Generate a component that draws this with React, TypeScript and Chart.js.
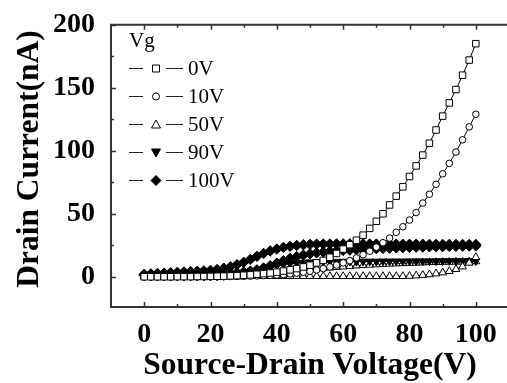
import React, { useEffect, useRef } from 'react';
import { Chart, registerables } from 'chart.js';

Chart.register(...registerables);

// ---------- data ----------
const voltages = [0, 2, 4, 6, 8, 10, 12, 14, 16, 18, 20, 22, 24, 26, 28, 30, 32, 34, 36, 38, 40, 42, 44, 46, 48, 50, 52, 54, 56, 58, 60, 62, 64, 66, 68, 70, 72, 74, 76, 78, 80, 82, 84, 86, 88, 90, 92, 94, 96, 98, 100];

const current0V = [0, 0, 0, 0, 0, 0.1, 0.1, 0.1, 0.2, 0.2, 0.3, 0.4, 0.5, 0.7, 0.9, 1.2, 1.5, 2, 2.5, 3, 3.7, 4.5, 5.5, 6.5, 7.8, 9.2, 11, 13, 15.5, 18.5, 22, 25.5, 29, 33, 38.4, 44, 50, 57, 64, 71.4, 79.6, 88, 96.6, 106, 116.5, 127.5, 138, 148.6, 160, 172, 185];

const current10V = [0, 0, 0, 0, 0, 0, 0, 0, 0, 0.1, 0.1, 0.1, 0.2, 0.2, 0.3, 0.4, 0.5, 0.7, 0.9, 1.1, 1.4, 1.8, 2.3, 2.9, 3.6, 4.4, 5.4, 6.5, 7.8, 9.3, 11, 12.8, 15, 17.5, 20.3, 23.5, 27, 30.7, 35.3, 39.7, 45, 51, 58.5, 65.5, 73.4, 81.7, 90, 99, 108.7, 119, 129];

const current50V = [0.2, 0.2, 0.2, 0.2, 0.2, 0.2, 0.2, 0.2, 0.2, 0.2, 0.2, 0.2, 0.2, 0.2, 0.2, 0.2, 0.4, 0.4, 0.4, 0.4, 0.4, 0.4, 0.4, 0.4, 0.4, 0.4, 0.4, 0.4, 0.4, 0.4, 0.4, 0.4, 0.4, 0.4, 0.4, 0.4, 0.4, 0.4, 0.4, 0.4, 0.6, 0.9, 1.3, 1.8, 2.5, 3.3, 4.4, 6, 8, 11, 15.5];

const current90V = [0.2, 0.2, 0.2, 0.2, 0.2, 0.2, 0.2, 0.2, 0.2, 0.2, 0.2, 0.4, 0.7, 1.1, 1.7, 2.5, 3.5, 4.7, 6, 7.3, 8.5, 9.5, 10.3, 10.9, 11.3, 11.6, 11.8, 11.9, 12, 12, 12.1, 12.1, 12.1, 12.2, 12.2, 12.2, 12.3, 12.3, 12.3, 12.3, 12.4, 12.4, 12.4, 12.4, 12.5, 12.5, 12.5, 12.5, 12.6, 12.6, 12.6];

const current100V = [2, 2.3, 2.6, 2.9, 3.2, 3.5, 3.8, 4.1, 4.4, 4.7, 5.1, 5.8, 6.8, 8, 9.6, 11.5, 13.8, 16.2, 18.5, 20.5, 22, 23.3, 24.2, 24.9, 25.4, 25.7, 25.9, 26, 26, 26.1, 26.1, 26.1, 26, 26, 26, 26, 25.9, 25.9, 25.9, 25.8, 25.8, 25.8, 25.8, 25.7, 25.7, 25.7, 25.7, 25.6, 25.6, 25.6, 25.6];

// unlabeled curves that fill the dense bands of the picture
const currentBandA = [1.2, 1.3, 1.4, 1.5, 1.6, 1.7, 1.8, 1.9, 2, 2.1, 2.2, 2.4, 2.6, 2.9, 3.3, 3.8, 4.5, 5.5, 7, 8.8, 10.8, 12.8, 14.6, 16, 17.2, 18.2, 19, 19.6, 20.1, 20.5, 20.9, 21.2, 21.5, 21.8, 22.1, 22.3, 22.5, 22.7, 22.9, 23.1, 23.3, 23.5, 23.6, 23.8, 23.9, 24, 24.1, 24.2, 24.3, 24.4, 24.5];

const currentBandB = [0.3, 0.3, 0.3, 0.3, 0.3, 0.3, 0.3, 0.3, 0.3, 0.3, 0.3, 0.3, 0.3, 0.3, 0.3, 0.6, 1, 1.6, 2.3, 3, 3.7, 4.3, 4.8, 5.2, 5.6, 6, 6.4, 6.8, 7.2, 7.6, 8, 8.4, 8.8, 9.1, 9.4, 9.7, 10, 10.2, 10.4, 10.6, 10.8, 11, 11.2, 11.4, 11.5, 11.6, 11.7, 11.8, 11.9, 12, 12.1];

const seriesLabels = ['0V', '10V', '50V', '90V', '100V'];
const legendTitle = 'Vg';
const xTickValues = [0, 20, 40, 60, 80, 100];
const xMinorValues = [10, 30, 50, 70, 90];
const yTickValues = [0, 50, 100, 150, 200];
const yMinorValues = [25, 75, 125, 175];
const xTitle = 'Source-Drain Voltage(V)';
const yTitle = 'Drain Current(nA)';

// ---------- styles ----------
const SERIF = '"Liberation Serif", "Times New Roman", serif';
const AXIS_COLOR = '#333333';

type Marker = 'square' | 'circle' | 'triangle' | 'triangleDown' | 'diamond';

const toXY = (ys: number[]) => voltages.map((v, i) => ({ x: v, y: ys[i] }));

function markerStyle(m: Marker) {
  switch (m) {
    case 'square':
      return { pointStyle: 'rect', pointRadius: 4.6, pointRotation: 0, pointBackgroundColor: '#ffffff' };
    case 'circle':
      return { pointStyle: 'circle', pointRadius: 3.3, pointRotation: 0, pointBackgroundColor: '#ffffff' };
    case 'triangle':
      return { pointStyle: 'triangle', pointRadius: 4.5, pointRotation: 0, pointBackgroundColor: '#ffffff' };
    case 'triangleDown':
      return { pointStyle: 'triangle', pointRadius: 4.5, pointRotation: 180, pointBackgroundColor: '#000000' };
    case 'diamond':
    default:
      return { pointStyle: 'rectRot', pointRadius: 5.2, pointRotation: 0, pointBackgroundColor: '#000000' };
  }
}

const seriesDefs: { label: string; values: number[]; marker: Marker; inLegend: boolean }[] = [
  { label: seriesLabels[0], values: current0V, marker: 'square', inLegend: true },
  { label: seriesLabels[1], values: current10V, marker: 'circle', inLegend: true },
  { label: seriesLabels[2], values: current50V, marker: 'triangle', inLegend: true },
  { label: seriesLabels[3], values: current90V, marker: 'triangleDown', inLegend: true },
  { label: seriesLabels[4], values: current100V, marker: 'diamond', inLegend: true },
  { label: '', values: currentBandA, marker: 'diamond', inLegend: false },
  { label: '', values: currentBandB, marker: 'triangle', inLegend: false },
];

function drawLegendMarker(ctx: CanvasRenderingContext2D, m: Marker, cx: number, cy: number) {
  ctx.beginPath();
  let filled = false;
  if (m === 'square') {
    ctx.rect(cx - 3.5, cy - 3.5, 7, 7);
  } else if (m === 'circle') {
    ctx.arc(cx, cy, 3.5, 0, Math.PI * 2);
  } else if (m === 'triangle') {
    ctx.moveTo(cx, cy - 4.5);
    ctx.lineTo(cx + 4.5, cy + 3.5);
    ctx.lineTo(cx - 4.5, cy + 3.5);
    ctx.closePath();
  } else if (m === 'triangleDown') {
    filled = true;
    ctx.moveTo(cx, cy + 4.5);
    ctx.lineTo(cx + 4.5, cy - 3.5);
    ctx.lineTo(cx - 4.5, cy - 3.5);
    ctx.closePath();
  } else {
    filled = true;
    ctx.moveTo(cx, cy - 5);
    ctx.lineTo(cx + 5, cy);
    ctx.lineTo(cx, cy + 5);
    ctx.lineTo(cx - 5, cy);
    ctx.closePath();
  }
  ctx.fillStyle = filled ? '#000' : '#fff';
  ctx.fill();
  ctx.lineWidth = 1;
  ctx.strokeStyle = '#000';
  ctx.stroke();
}

const framePlugin = {
  id: 'frame',
  afterDatasetsDraw(chart: any) {
    const { ctx, chartArea: a, scales } = chart;
    const xs = scales.x;
    const ys = scales.y;
    ctx.save();
    ctx.strokeStyle = AXIS_COLOR;
    ctx.lineWidth = 2;
    ctx.beginPath();
    ctx.moveTo(a.right + 20, a.top);
    ctx.lineTo(a.left, a.top);
    ctx.lineTo(a.left, a.bottom);
    ctx.lineTo(a.right + 20, a.bottom);
    ctx.stroke();
    ctx.lineWidth = 1.5;
    ctx.beginPath();
    const xTick = (v: number, len: number) => {
      const px = Math.round(xs.getPixelForValue(v)) + 0.5;
      ctx.moveTo(px, a.bottom);
      ctx.lineTo(px, a.bottom - len);
      ctx.moveTo(px, a.top);
      ctx.lineTo(px, a.top + len);
    };
    const yTick = (v: number, len: number) => {
      const py = Math.round(ys.getPixelForValue(v)) + 0.5;
      ctx.moveTo(a.left, py);
      ctx.lineTo(a.left + len, py);
    };
    xTickValues.forEach((v) => xTick(v, 5));
    xMinorValues.forEach((v) => xTick(v, 3));
    yTickValues.forEach((v) => yTick(v, 5));
    yMinorValues.forEach((v) => yTick(v, 3));
    ctx.stroke();
    ctx.restore();
  },
  afterDraw(chart: any) {
    const { ctx, chartArea: a } = chart;
    ctx.save();
    ctx.fillStyle = '#000';
    // axis titles
    ctx.font = `bold 31.5px ${SERIF}`;
    ctx.textAlign = 'center';
    ctx.textBaseline = 'alphabetic';
    ctx.fillText(xTitle, (a.left + a.right) / 2, 374);
    ctx.save();
    ctx.translate(38, 159);
    ctx.rotate(-Math.PI / 2);
    ctx.fillText(yTitle, 0, 0);
    ctx.restore();

    // legend
    ctx.font = `21px ${SERIF}`;
    ctx.textAlign = 'left';
    ctx.textBaseline = 'middle';
    ctx.fillText(legendTitle, 129, 41);
    const rowY = [68, 96, 124, 152, 180];
    let r = 0;
    seriesDefs.forEach((s) => {
      if (!s.inLegend) return;
      const y = rowY[r++];
      ctx.strokeStyle = '#222';
      ctx.lineWidth = 1;
      ctx.beginPath();
      ctx.moveTo(129, y + 0.5);
      ctx.lineTo(143, y + 0.5);
      ctx.moveTo(166, y + 0.5);
      ctx.lineTo(183, y + 0.5);
      ctx.stroke();
      drawLegendMarker(ctx, s.marker, 156, y + 0.5);
      ctx.fillStyle = '#000';
      ctx.fillText(s.label, 188, y + 1);
    });
    ctx.restore();
  },
};

export default function App() {
  const ref = useRef<HTMLCanvasElement | null>(null);

  useEffect(() => {
    if (!ref.current) return;
    const datasets = seriesDefs.map((s) => ({
      label: s.label,
      data: toXY(s.values),
      borderColor: '#000',
      borderWidth: 1,
      pointBorderColor: '#000',
      pointBorderWidth: 1,
      tension: 0,
      fill: false,
      ...markerStyle(s.marker),
    }));
    const tickFont = { family: SERIF, size: 28, weight: 'bold' as const };
    const chart = new Chart(ref.current, {
      type: 'line',
      data: { datasets: datasets as any },
      options: {
        animation: false,
        responsive: false,
        devicePixelRatio: 1,
        layout: { padding: { top: 16, right: 16, left: 0, bottom: 0 } },
        plugins: { legend: { display: false }, tooltip: { enabled: false }, title: { display: false } },
        scales: {
          x: {
            type: 'linear',
            min: -10,
            max: 110,
            grid: { display: false },
            border: { display: false },
            afterBuildTicks: (scale: any) => {
              scale.ticks = xTickValues.map((v) => ({ value: v }));
            },
            afterFit: (scale: any) => {
              scale.height = 76;
            },
            ticks: { font: tickFont, color: '#000', padding: 3, maxRotation: 0, autoSkip: false },
          },
          y: {
            type: 'linear',
            min: -24,
            max: 200,
            grid: { display: false },
            border: { display: false },
            afterBuildTicks: (scale: any) => {
              scale.ticks = yTickValues.map((v) => ({ value: v }));
            },
            afterFit: (scale: any) => {
              scale.width = 111;
            },
            ticks: { font: tickFont, color: '#000', padding: 8, autoSkip: false },
          },
        },
      },
      plugins: [framePlugin],
    });
    return () => chart.destroy();
  }, []);

  return (
    <div style={{ position: 'fixed', left: 0, top: 0, width: 507, height: 383, overflow: 'hidden', background: '#fff' }}>
      <canvas ref={ref} width={525} height={383} style={{ display: 'block', width: 525, height: 383 }} />
    </div>
  );
}
